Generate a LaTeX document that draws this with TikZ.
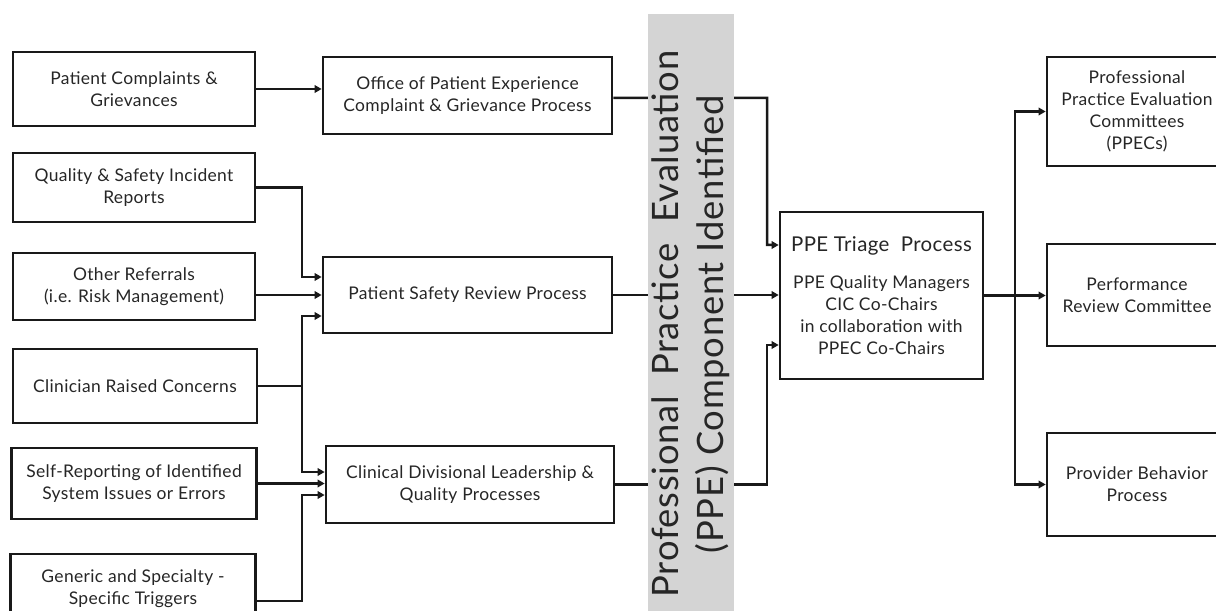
\documentclass[tikz,border=0pt]{standalone}
\usepackage{fontspec}
\setmainfont{Lato}[LetterSpace=2]
\usetikzlibrary{arrows.meta,calc}
\begin{document}
\begin{tikzpicture}[x=1bp,y=-1bp,
  box/.style={draw=black!90, line width=2.7bp, rectangle, align=center, inner sep=0pt,
    font=\fontsize{17.5}{22}\selectfont, text=black!85},
  conn/.style={draw=black!90, line width=2.5bp, -{Triangle[length=7bp,width=7.5bp]}},
  plain/.style={draw=black!90, line width=2.5bp}
]
\clip (0,0) rectangle (1216,611);
\fill[white] (0,0) rectangle (1216,611);

% left column
\node[box, minimum width=242bp, minimum height=74bp] (A1) at (134,89) {Patient Complaints \&\\Grievances};
\node[box, minimum width=242bp, minimum height=69bp] (A2) at (134,187.5) {Quality \& Safety Incident\\Reports};
\node[box, minimum width=242bp, minimum height=67bp] (A3) at (134,286.5) {Other Referrals\\(i.e. Risk Management)};
\node[box, minimum width=244bp, minimum height=74bp] (A4) at (135,386) {Clinician Raised Concerns};
\node[box, minimum width=245bp, minimum height=71bp] (A5) at (134,483.5) {Self-Reporting of Identified\\System Issues or Errors};
\node[box, minimum width=245bp, minimum height=70bp] (A6) at (133,589) {Generic and Specialty -\\Specific Triggers};

% middle column
\node[box, minimum width=289bp, minimum height=77bp] (O) at (467.5,95.5) {Office of Patient Experience\\Complaint \& Grievance Process};
\node[box, minimum width=289bp, minimum height=76bp] (PS) at (467.5,295) {Patient Safety Review Process};
\node[box, minimum width=288bp, minimum height=77bp] (CD) at (470,484.5) {Clinical Divisional Leadership \&\\Quality Processes};

% triage
\node[box, minimum width=203bp, minimum height=167bp] (T) at (881.5,295.5)
  {{\fontsize{20.5}{24}\selectfont PPE Triage\ \ Process}\\[15bp]
   PPE Quality Managers\\CIC Co-Chairs\\in collaboration with\\PPEC Co-Chairs};

% right column
\node[box, minimum width=180bp, minimum height=109bp] (R1) at (1137,111.5) {Professional\\Practice Evaluation\\Committees\\(PPECs)};
\node[box, minimum width=180bp, minimum height=102bp] (R2) at (1137,295) {Performance\\Review Committee};
\node[box, minimum width=180bp, minimum height=103bp] (R3) at (1137,484.5) {Provider Behavior\\Process};

% left connectors
\coordinate (l2a) at (302,187.5);
\coordinate (l2b) at (302,277);
\coordinate (l4a) at (302,386);
\coordinate (l4b) at (302,316);
\coordinate (l4c) at (302,472);
\coordinate (l6a) at (302,601);
\coordinate (l6b) at (302,495);
\draw[conn] (A1.east) -- (A1.east -| O.west);
\draw[conn] (A2.east) -- (l2a) -- (l2b) -- (l2b -| PS.west);
\draw[conn] (A3.east |- PS.west) -- (PS.west);
\draw[conn] (A4.east) -- (l4a) -- (l4b) -- (l4b -| PS.west);
\draw[conn] (l4a) -- (l4c) -- (l4c -| CD.west);
\draw[conn] (A5.east) -- (A5.east -| CD.west);
\draw[conn] (A6.east |- l6a) -- (l6a) -- (l6b) -- (l6b -| CD.west);

% middle to triage
\coordinate (t1) at (767,98);
\coordinate (t1b) at (767,245);
\coordinate (t3) at (767,484.5);
\coordinate (t3b) at (767,345);
\draw[conn] ([yshift=-2.5bp]O.east) -- (t1) -- (t1b) -- (t1b -| T.west);
\draw[conn] (PS.east) -- (PS.east -| T.west);
\draw[conn] (CD.east) -- (t3) -- (t3b) -- (t3b -| T.west);

% triage to right
\coordinate (r0) at (1015,295.5);
\draw[conn] (T.east) -- (T.east -| R2.west);
\draw[conn] (r0) |- (R1.west);
\draw[conn] (r0) |- (R3.west);

% band
\fill[black!17] (648,14) rectangle (734,620);
\node[rotate=90, align=center, inner sep=0pt, text=black!85,
  font=\fontsize{36.5}{45}\selectfont] (band) at (690.5,324)
  {Professional\ \ Practice\ \ Evaluation\\(PPE)\ Component\ Identified};
\end{tikzpicture}
\end{document}
